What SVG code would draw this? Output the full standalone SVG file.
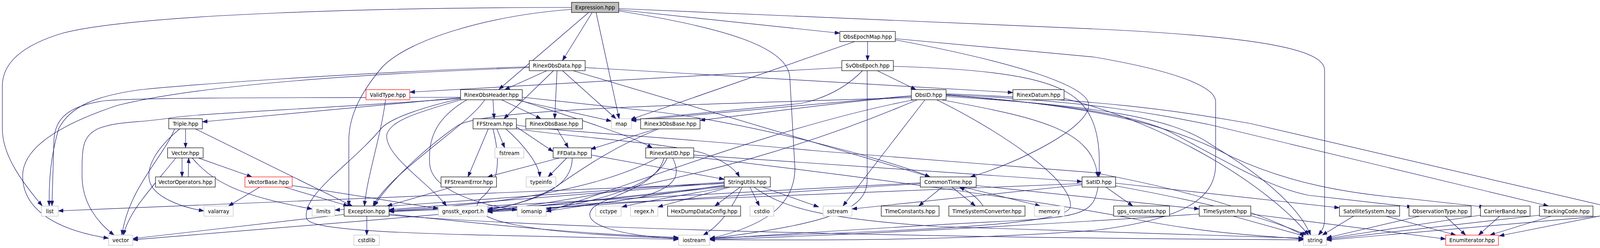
<svg xmlns="http://www.w3.org/2000/svg" width="4210" height="635" viewBox="0 0 4210 635">
<style>
.e{fill:none;stroke:#191970;stroke-width:1.2;marker-end:url(#ah)}
.n rect{fill:#fff;stroke:#000;stroke-width:1.2}
.s rect{fill:#fff;stroke:#bfbfbf;stroke-width:1.2}
.r rect{fill:#fff;stroke:#ff0000;stroke-width:1.2}
.root rect{fill:#bfbfbf;stroke:#000;stroke-width:1.2}
text{font-family:"DejaVu Sans","Liberation Sans",sans-serif;font-size:13.33px;text-anchor:middle;fill:#000}
</style>
<defs>
<marker id="ah" markerUnits="userSpaceOnUse" markerWidth="14" markerHeight="10" refX="13" refY="4.7" orient="auto">
<path d="M0,0 L13,4.7 L0,9.4 z" fill="#191970" stroke="#191970" stroke-width="0.8"/>
</marker>
</defs>
<rect width="4210" height="635" fill="#fff"/>
<g id="edges">
<path class="e" d="M1463,19 C1000,19 350,35 160,85 C60,115 6,160 6,220 L6,330 C6,400 60,470 108,527"/>
<path class="e" d="M1463,24 C1250,40 1050,100 980,170 C920,240 893,300 893,360 L893,527"/>
<path class="e" d="M1507,32 L1277,229"/>
<path class="e" d="M1516,32 L1440,155"/>
<path class="e" d="M1526,32 L1585,304"/>
<path class="e" d="M1584,22 L2800,74 C3250,95 3391,130 3391,180 L3391,560 C3391,580 3385,590 3375,602"/>
<path class="e" d="M1584,25 L2150,85"/>
<path class="e" d="M1584,28 C1850,70 2020,120 2022,200 L2035,430 C2035,530 1950,580 1817,611"/>
<path class="e" d="M2221,106.5 L2221,155"/>
<path class="e" d="M2188,106.5 L1614,306"/>
<path class="e" d="M2292,102 C2600,160 2790,220 2787,270 C2785,330 2600,420 2484,453"/>
<path class="e" d="M2292,99 L2800,146 C3000,180 3112,220 3112,260 L3112,420 C3112,500 3050,560 2800,590 C2400,620 2000,614 1817,614"/>
<path class="e" d="M1400,181 L1292,229.5"/>
<path class="e" d="M1417,181 L1290,304"/>
<path class="e" d="M1426,181 L1420,304"/>
<path class="e" d="M1440,181 L1577,304"/>
<path class="e" d="M1467,181 L2381,453"/>
<path class="e" d="M1498,173 L2593,237"/>
<path class="e" d="M1355,171 C900,185 450,220 357,230 C250,245 180,270 150,330 C130,400 125,460 126,527"/>
<path class="e" d="M1355,173 C900,190 500,220 300,270 C150,320 58,380 58,450 C58,540 150,590 278,610"/>
<path class="e" d="M1179,250 L518,312"/>
<path class="e" d="M1179,249 C700,250 350,250 268,258 C180,270 140,300 138,360 L133,527"/>
<path class="e" d="M1179,252 C800,280 500,290 430,303 C350,315 300,310 250,330 C210,350 210,380 210,450 C210,520 250,570 292,602"/>
<path class="e" d="M1262,255.5 L1265,304"/>
<path class="e" d="M1284,255.5 L1385,304"/>
<path class="e" d="M1320,255.5 L1565,310"/>
<path class="e" d="M1338,249 L1670,285 C1900,312 2250,400 2381,453"/>
<path class="e" d="M1327,255.5 C1400,280 1600,340 1670,378.5"/>
<path class="e" d="M1241,255.5 C1200,320 1000,440 955,527.5"/>
<path class="e" d="M1180,255.5 C1060,290 1000,310 990,345 C985,400 1100,470 1143,527.5"/>
<path class="e" d="M1195,255.5 C1120,300 1095,350 1100,420 C1105,480 1200,520 1324,538"/>
<path class="e" d="M1179,253 C1100,270 1000,300 975,330 C900,420 770,500 785,560 C800,600 1200,600 1737,613"/>
<path class="e" d="M1426,330 L1455,378.5"/>
<path class="e" d="M1680,330 L1512,382"/>
<path class="e" d="M1686,330 C1560,380 1480,440 1420,480 C1350,520 1290,530 1248,536"/>
<path class="e" d="M1250,330 L1198,453"/>
<path class="e" d="M1272,330 L1292,378.5"/>
<path class="e" d="M1295,330 C1340,370 1380,420 1382,453"/>
<path class="e" d="M1322,325 L1416,388"/>
<path class="e" d="M1262,330 C1290,440 1260,480 1240,500 C1150,570 1400,600 1737,610"/>
<path class="e" d="M1322,320 C1400,335 1700,350 2100,387 L2800,442 C3000,480 3200,530 3340,604"/>
<path class="e" d="M1322,330 C1500,355 1700,365 1800,392 C1850,410 1880,430 1893,453"/>
<path class="e" d="M1432,404.5 L1248,453"/>
<path class="e" d="M1451,404.5 L1403,453"/>
<path class="e" d="M1514,397 L1854,459"/>
<path class="e" d="M1465,404.5 C1465,470 1400,510 1248,538"/>
<path class="e" d="M1776,397 L2770,465"/>
<path class="e" d="M1776,402 C2200,450 2700,520 2900,560 C3100,600 3250,605 3337,612"/>
<path class="e" d="M1683,404.5 C1560,470 1350,520 996,539"/>
<path class="e" d="M1708,404.5 C1680,470 1560,510 1398,536"/>
<path class="e" d="M1722,404.5 C1745,450 1730,480 1640,505 C1500,530 1400,532 1248,540"/>
<path class="e" d="M1700,404.5 C1680,480 1560,500 1520,530 C1480,570 1560,600 1737,612"/>
<path class="e" d="M1854,470 L149,540"/>
<path class="e" d="M1869,479 L1684,530"/>
<path class="e" d="M1895,479 L1830,527.5"/>
<path class="e" d="M1920,479 L1944,527.5"/>
<path class="e" d="M1952,479 L2096,530"/>
<path class="e" d="M1930,479 C2000,530 2100,560 2400,580 L3337,610"/>
<path class="e" d="M1862,479 C1750,500 1650,515 1592,530"/>
<path class="e" d="M1854,474 L1398,541"/>
<path class="e" d="M1854,476 L1248,542"/>
<path class="e" d="M1854,468 L996,537"/>
<path class="e" d="M1854,466 L857,538"/>
<path class="e" d="M1854,478 C1500,520 1000,560 340,614"/>
<path class="e" d="M1900,479 C1870,540 1840,580 1800,602"/>
<path class="e" d="M2412,479 L2352,527.5"/>
<path class="e" d="M2437,479 L2497,527.5"/>
<path class="e" d="M2466,479 L2663,527.5"/>
<path class="e" d="M2499,475 L3070,535"/>
<path class="e" d="M2517,527.5 C2505,510 2490,495 2456,479"/>
<path class="e" d="M2356,468 L996,541"/>
<path class="e" d="M2356,470 L1248,543"/>
<path class="e" d="M2831,479 L2900,527.5"/>
<path class="e" d="M2856,469 L3429,532"/>
<path class="e" d="M2770,473 L2181,535"/>
<path class="e" d="M2770,470 L996,542"/>
<path class="e" d="M2811,479 C2800,540 2780,555 2600,565 C2300,580 2000,600 1817,612"/>
<path class="e" d="M2856,476 C3100,520 3250,560 3345,602"/>
<path class="e" d="M2155,173 L1049,236"/>
<path class="e" d="M2208,181 C2170,220 2120,250 2050,265 L1616,307"/>
<path class="e" d="M2220,181 L2220,460 C2220,530 2150,570 1817,611"/>
<path class="e" d="M2246,181 L2345,229.5"/>
<path class="e" d="M2287,170 C2600,178 2720,210 2770,267 C2810,310 2818,380 2813,453"/>
<path class="e" d="M2333,245 L1616,309"/>
<path class="e" d="M2333,247 C2200,255 1950,290 1792,308"/>
<path class="e" d="M2333,250 C1700,270 1250,280 1174,320 C1100,370 1000,460 958,527.5"/>
<path class="e" d="M2348,255.5 C2150,340 1800,470 1248,541"/>
<path class="e" d="M2340,255.5 C2000,320 1600,480 1398,542"/>
<path class="e" d="M2368,255.5 L2158,527.5"/>
<path class="e" d="M2398,255.5 C2550,330 2750,460 2740,530 C2730,580 2300,590 1817,610"/>
<path class="e" d="M2422,247 C2800,270 3000,300 3100,370 C3250,460 3330,540 3355,602"/>
<path class="e" d="M2410,255.5 C2650,300 2800,330 2810,453"/>
<path class="e" d="M2422,244 C2700,265 2900,290 3000,340 C3150,420 3250,480 3350,500 L3615,530"/>
<path class="e" d="M2422,243 C2800,270 3000,320 3150,400 C3300,470 3450,495 3600,508 L3800,530"/>
<path class="e" d="M2422,242 C2800,260 2950,290 3100,320 L3964,527.5"/>
<path class="e" d="M2422,240 C2800,255 3000,280 3200,316 L4110,527.5"/>
<path class="e" d="M2724,252 C3000,320 3250,480 3350,602"/>
<path class="e" d="M3157,553.5 L3345,606"/>
<path class="e" d="M3202,548 L3701,612"/>
<path class="e" d="M3070,548 C2600,580 2200,600 1817,614"/>
<path class="e" d="M3465,553.5 L3385,602"/>
<path class="e" d="M3548,553.5 L3727,602"/>
<path class="e" d="M3700,553.5 L3752,602"/>
<path class="e" d="M3634,553.5 L3396,609"/>
<path class="e" d="M3839,553.5 L3785,602"/>
<path class="e" d="M3790,551 L3396,611"/>
<path class="e" d="M3971,553.5 L3814,602"/>
<path class="e" d="M3941,551 L3396,613"/>
<path class="e" d="M4101,552 L3838,604"/>
<path class="e" d="M4101,553 L3396,615"/>
<path class="e" d="M475,330 L475,378.5"/>
<path class="e" d="M500,330 L902,527.5"/>
<path class="e" d="M447,330 C420,400 330,480 312,602"/>
<path class="e" d="M460,330 C400,380 370,430 385,470 C400,505 460,530 522,540"/>
<path class="e" d="M466,404.5 L466,453"/>
<path class="e" d="M482,453 L483,404.5"/>
<path class="e" d="M508,404.5 L645,453"/>
<path class="e" d="M492,404.5 C540,460 600,500 799,535"/>
<path class="e" d="M450,404.5 C390,480 330,540 316,602"/>
<path class="e" d="M665,479 L585,527.5"/>
<path class="e" d="M728,479 L892,527.5"/>
<path class="e" d="M748,475 L1122,534"/>
<path class="e" d="M1157,479 L991,527.5"/>
<path class="e" d="M987,255.5 C975,350 940,450 933,527.5"/>
<path class="e" d="M939,553.5 L939,602"/>
<path class="e" d="M881,549 L340,611"/>
<path class="e" d="M996,548 C1300,580 1500,600 1737,608"/>
<path class="e" d="M996,551 C1500,590 2500,610 3337,614"/>
</g>
<g id="n_Expression" class="root"><rect x="1463" y="6" width="121" height="26"/><text x="1523.5" y="24">Expression.hpp</text></g>
<g id="n_ObsEpochMap" class="n"><rect x="2150" y="80.5" width="142" height="26"/><text x="2221" y="98.5">ObsEpochMap.hpp</text></g>
<g id="n_RinexObsData" class="n"><rect x="1355" y="155" width="143" height="26"/><text x="1426.5" y="173">RinexObsData.hpp</text></g>
<g id="n_SvObsEpoch" class="n"><rect x="2155" y="155" width="132" height="26"/><text x="2221" y="173">SvObsEpoch.hpp</text></g>
<g id="n_ValidType" class="r"><rect x="937" y="229.5" width="112" height="26"/><text x="993" y="247.5">ValidType.hpp</text></g>
<g id="n_RinexObsHeader" class="n"><rect x="1179" y="229.5" width="158" height="26"/><text x="1258" y="247.5">RinexObsHeader.hpp</text></g>
<g id="n_ObsID" class="n"><rect x="2333" y="229.5" width="89" height="26"/><text x="2377.5" y="247.5">ObsID.hpp</text></g>
<g id="n_RinexDatum" class="n"><rect x="2593" y="229.5" width="131" height="26"/><text x="2658.5" y="247.5">RinexDatum.hpp</text></g>
<g id="n_Triple" class="n"><rect x="432" y="304" width="86" height="26"/><text x="475" y="322">Triple.hpp</text></g>
<g id="n_FFStream" class="n"><rect x="1211" y="304" width="111" height="26"/><text x="1266.5" y="322">FFStream.hpp</text></g>
<g id="n_RinexObsBase" class="n"><rect x="1346" y="304" width="145" height="26"/><text x="1418.5" y="322">RinexObsBase.hpp</text></g>
<g id="n_map" class="s"><rect x="1565" y="304" width="51" height="26"/><text x="1590.5" y="322">map</text></g>
<g id="n_Rinex3ObsBase" class="n"><rect x="1640" y="304" width="152" height="26"/><text x="1716" y="322">Rinex3ObsBase.hpp</text></g>
<g id="n_Vector" class="n"><rect x="429" y="378.5" width="91" height="26"/><text x="474.5" y="396.5">Vector.hpp</text></g>
<g id="n_fstream" class="s"><rect x="1267" y="378.5" width="74" height="26"/><text x="1304" y="396.5">fstream</text></g>
<g id="n_FFData" class="n"><rect x="1416" y="378.5" width="98" height="26"/><text x="1465" y="396.5">FFData.hpp</text></g>
<g id="n_RinexSatID" class="n"><rect x="1653" y="378.5" width="123" height="26"/><text x="1714.5" y="396.5">RinexSatID.hpp</text></g>
<g id="n_VectorOperators" class="n"><rect x="398" y="453" width="153" height="26"/><text x="474.5" y="471">VectorOperators.hpp</text></g>
<g id="n_VectorBase" class="r"><rect x="627" y="453" width="121" height="26"/><text x="687.5" y="471">VectorBase.hpp</text></g>
<g id="n_FFStreamError" class="n"><rect x="1129" y="453" width="142" height="26"/><text x="1200" y="471">FFStreamError.hpp</text></g>
<g id="n_typeinfo" class="s"><rect x="1347" y="453" width="76" height="26"/><text x="1385" y="471">typeinfo</text></g>
<g id="n_StringUtils" class="n"><rect x="1854" y="453" width="118" height="26"/><text x="1913" y="471">StringUtils.hpp</text></g>
<g id="n_CommonTime" class="n"><rect x="2356" y="453" width="143" height="26"/><text x="2427.5" y="471">CommonTime.hpp</text></g>
<g id="n_SatID" class="n"><rect x="2770" y="453" width="86" height="26"/><text x="2813" y="471">SatID.hpp</text></g>
<g id="n_list" class="s"><rect x="106" y="527.5" width="43" height="26"/><text x="127.5" y="545.5">list</text></g>
<g id="n_valarray" class="s"><rect x="522" y="527.5" width="75" height="26"/><text x="559.5" y="545.5">valarray</text></g>
<g id="n_limits" class="s"><rect x="799" y="527.5" width="58" height="26"/><text x="828" y="545.5">limits</text></g>
<g id="n_Exception" class="n"><rect x="881" y="527.5" width="115" height="26"/><text x="938.5" y="545.5">Exception.hpp</text></g>
<g id="n_gnsstk_export" class="s"><rect x="1122" y="527.5" width="126" height="26"/><text x="1185" y="545.5">gnsstk_export.h</text></g>
<g id="n_iomanip" class="s"><rect x="1324" y="527.5" width="74" height="26"/><text x="1361" y="545.5">iomanip</text></g>
<g id="n_cctype" class="s"><rect x="1525" y="527.5" width="65" height="26"/><text x="1557.5" y="545.5">cctype</text></g>
<g id="n_regex" class="s"><rect x="1614" y="527.5" width="70" height="26"/><text x="1649" y="545.5">regex.h</text></g>
<g id="n_HexDumpDataConfig" class="n"><rect x="1709" y="527.5" width="187" height="26"/><text x="1802.5" y="545.5">HexDumpDataConfig.hpp</text></g>
<g id="n_cstdio" class="s"><rect x="1920" y="527.5" width="61" height="26"/><text x="1950.5" y="545.5">cstdio</text></g>
<g id="n_sstream" class="s"><rect x="2107" y="527.5" width="74" height="26"/><text x="2144" y="545.5">sstream</text></g>
<g id="n_TimeConstants" class="n"><rect x="2256" y="527.5" width="148" height="26"/><text x="2330" y="545.5">TimeConstants.hpp</text></g>
<g id="n_TimeSystemConverter" class="n"><rect x="2429" y="527.5" width="195" height="26"/><text x="2526.5" y="545.5">TimeSystemConverter.hpp</text></g>
<g id="n_memory" class="s"><rect x="2648" y="527.5" width="77" height="26"/><text x="2686.5" y="545.5">memory</text></g>
<g id="n_gps_constants" class="n"><rect x="2851" y="527.5" width="143" height="26"/><text x="2922.5" y="545.5">gps_constants.hpp</text></g>
<g id="n_TimeSystem" class="n"><rect x="3070" y="527.5" width="132" height="26"/><text x="3136" y="545.5">TimeSystem.hpp</text></g>
<g id="n_SatelliteSystem" class="n"><rect x="3429" y="527.5" width="154" height="26"/><text x="3506" y="545.5">SatelliteSystem.hpp</text></g>
<g id="n_ObservationType" class="n"><rect x="3607" y="527.5" width="159" height="26"/><text x="3686.5" y="545.5">ObservationType.hpp</text></g>
<g id="n_CarrierBand" class="n"><rect x="3790" y="527.5" width="127" height="26"/><text x="3853.5" y="545.5">CarrierBand.hpp</text></g>
<g id="n_TrackingCode" class="n"><rect x="3941" y="527.5" width="137" height="26"/><text x="4009.5" y="545.5">TrackingCode.hpp</text></g>
<g id="n_XmitAnt" class="n"><rect x="4101" y="527.5" width="104" height="26"/><text x="4153" y="545.5">XmitAnt.hpp</text></g>
<g id="n_vector" class="s"><rect x="278" y="602" width="62" height="26"/><text x="309" y="620">vector</text></g>
<g id="n_cstdlib" class="s"><rect x="906" y="602" width="65" height="26"/><text x="938.5" y="620">cstdlib</text></g>
<g id="n_iostream" class="s"><rect x="1737" y="602" width="80" height="26"/><text x="1777" y="620">iostream</text></g>
<g id="n_string" class="s"><rect x="3337" y="602" width="59" height="26"/><text x="3366.5" y="620">string</text></g>
<g id="n_EnumIterator" class="r"><rect x="3701" y="602" width="135" height="26"/><text x="3768.5" y="620">EnumIterator.hpp</text></g>
</svg>
